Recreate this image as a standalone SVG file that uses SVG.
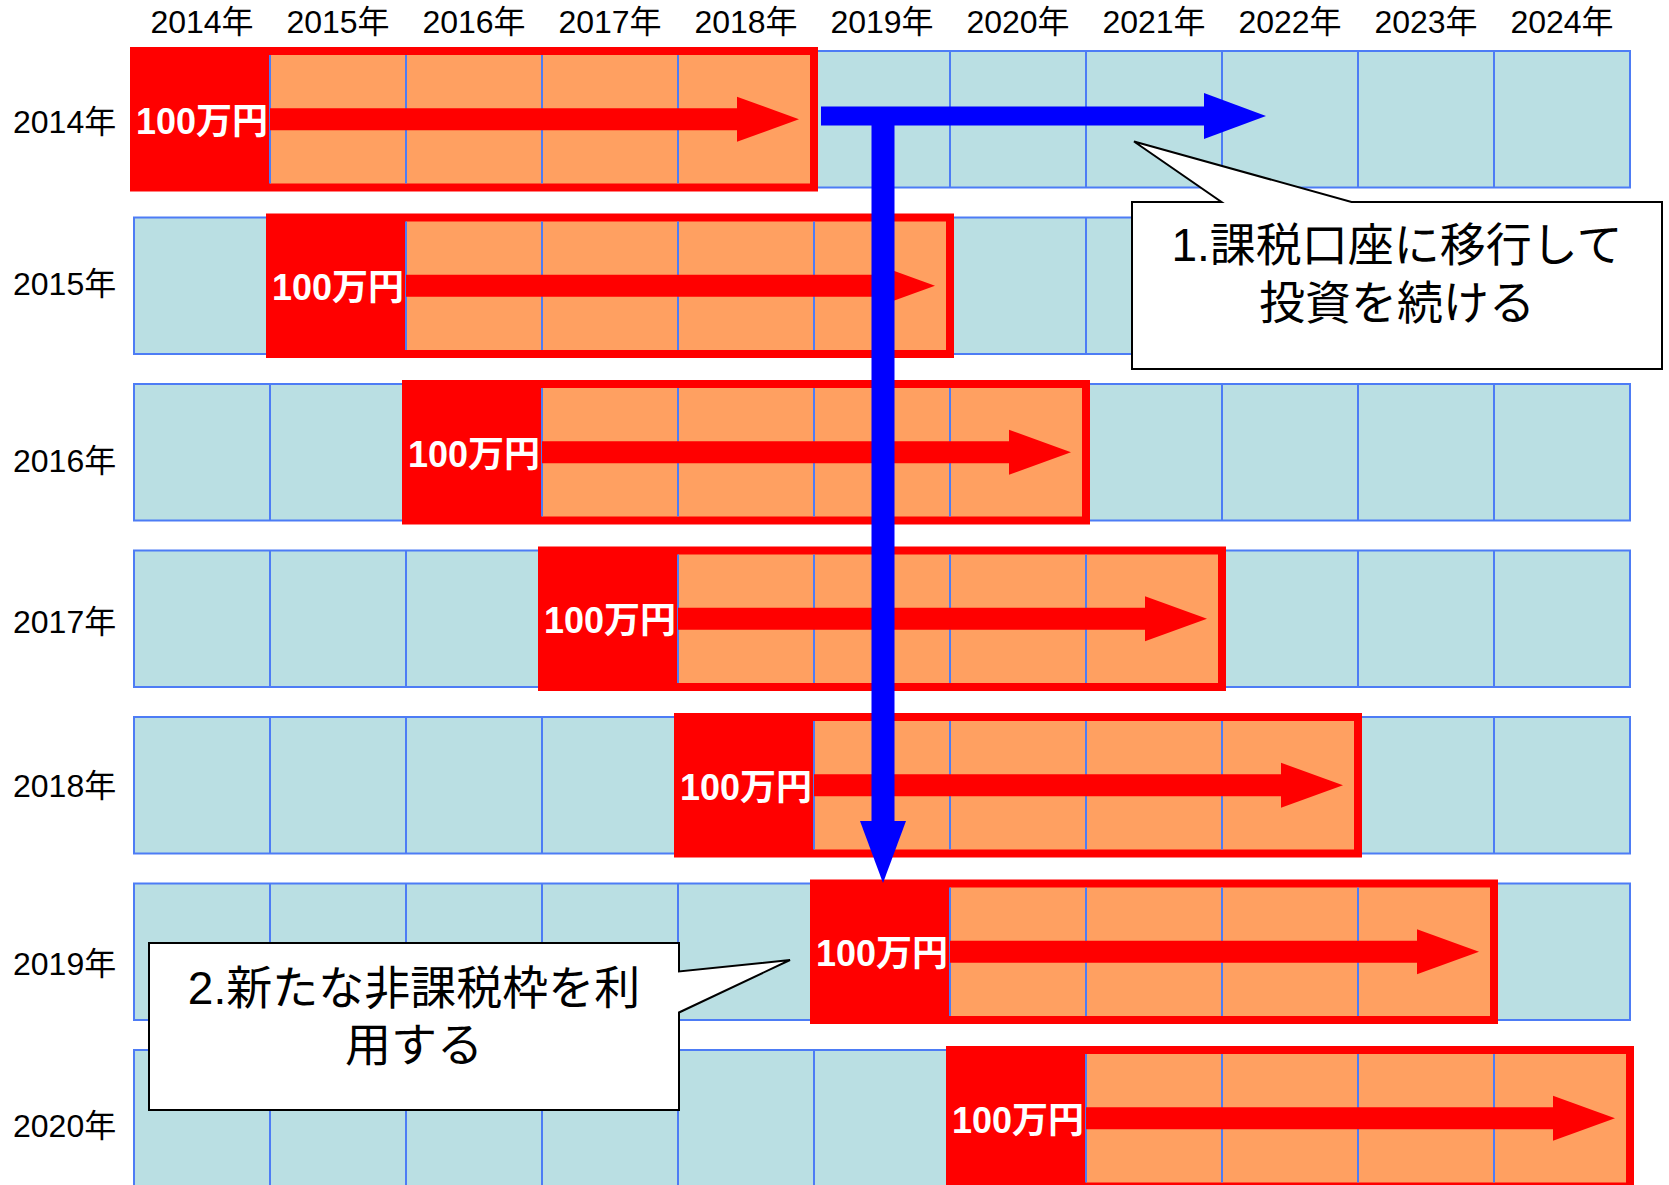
<svg xmlns="http://www.w3.org/2000/svg" width="1669" height="1185" viewBox="0 0 1669 1185">
<defs>
<style>
.t{font-family:"Liberation Sans","Noto Sans CJK JP",sans-serif;fill:#000}
.hd{font-size:32px;text-anchor:middle}
.rl{font-size:32px}
.amt{font-family:"Liberation Sans","Noto Sans CJK JP",sans-serif;font-weight:bold;font-size:36px;fill:#fff;text-anchor:middle}
.cell{fill:#BADFE3;stroke:#4D7CF5;stroke-width:2}
.gl{stroke:#4D7CF5;stroke-width:2}
.blk{fill:#FF0000}
.org{fill:#FFA061}
.rar{stroke:#FF0000;stroke-width:22;fill:none}
.bar{stroke:#0000FF;fill:none}
.co{fill:#fff;stroke:#000;stroke-width:2}
.ct{font-family:"Liberation Sans","Noto Sans CJK JP",sans-serif;font-size:46px;fill:#000;text-anchor:middle}
</style>
<marker id="rh" markerUnits="userSpaceOnUse" markerWidth="62" markerHeight="45" viewBox="0 0 62 45" refX="0" refY="22.5" orient="auto" overflow="visible">
<path d="M0,0 L62,22.5 L0,45 Z" fill="#FF0000"/>
</marker>
<marker id="bh" markerUnits="userSpaceOnUse" markerWidth="62" markerHeight="46" viewBox="0 0 62 46" refX="0" refY="23" orient="auto" overflow="visible">
<path d="M0,0 L62,23 L0,46 Z" fill="#0000FF"/>
</marker>
<g id="gridrow">
<rect class="cell" x="134" y="0" width="1496" height="136.5"/>
<path class="gl" d="M270,0V136.5M406,0V136.5M542,0V136.5M678,0V136.5M814,0V136.5M950,0V136.5M1086,0V136.5M1222,0V136.5M1358,0V136.5M1494,0V136.5"/>
</g>
<g id="block">
<rect class="blk" x="-4" y="-4" width="688" height="144.5"/>
<rect class="org" x="136" y="4" width="540" height="128.5"/>
<path class="gl" d="M136,4V132.5M272,4V132.5M408,4V132.5M544,4V132.5"/>
<path class="rar" d="M136,68.25H603" marker-end="url(#rh)"/>
<text class="amt" x="68" y="82.75">100万円</text>
</g>
</defs>

<g id="header">
<text class="t hd" x="202" y="33">2014年</text>
<text class="t hd" x="338" y="33">2015年</text>
<text class="t hd" x="474" y="33">2016年</text>
<text class="t hd" x="610" y="33">2017年</text>
<text class="t hd" x="746" y="33">2018年</text>
<text class="t hd" x="882" y="33">2019年</text>
<text class="t hd" x="1018" y="33">2020年</text>
<text class="t hd" x="1154" y="33">2021年</text>
<text class="t hd" x="1290" y="33">2022年</text>
<text class="t hd" x="1426" y="33">2023年</text>
<text class="t hd" x="1562" y="33">2024年</text>
</g>

<g id="row-2014">
<text class="t rl" x="13" y="133">2014年</text>
<use href="#gridrow" y="51"/>
<use href="#block" x="134" y="51"/>
</g>
<g id="row-2015">
<text class="t rl" x="13" y="295">2015年</text>
<use href="#gridrow" y="217.5"/>
<use href="#block" x="270" y="217.5"/>
</g>
<g id="row-2016">
<text class="t rl" x="13" y="472">2016年</text>
<use href="#gridrow" y="384"/>
<use href="#block" x="406" y="384"/>
</g>
<g id="row-2017">
<text class="t rl" x="13" y="633">2017年</text>
<use href="#gridrow" y="550.5"/>
<use href="#block" x="542" y="550.5"/>
</g>
<g id="row-2018">
<text class="t rl" x="13" y="797">2018年</text>
<use href="#gridrow" y="717"/>
<use href="#block" x="678" y="717"/>
</g>
<g id="row-2019">
<text class="t rl" x="13" y="975">2019年</text>
<use href="#gridrow" y="883.5"/>
<use href="#block" x="814" y="883.5"/>
</g>
<g id="row-2020">
<text class="t rl" x="13" y="1137">2020年</text>
<use href="#gridrow" y="1050"/>
<use href="#block" x="950" y="1050"/>
</g>

<g id="connectors">
<path class="bar" stroke-width="19" d="M821,116H1204" marker-end="url(#bh)"/>
<path class="bar" stroke-width="23" d="M883,107V821" marker-end="url(#bh)"/>
</g>

<g id="callout-1">
<path class="co" d="M1132,202H1221.5L1134,141.5L1351.5,202H1662V369H1132Z"/>
<text class="ct" x="1397" y="261">1.課税口座に移行して</text>
<text class="ct" x="1397" y="319">投資を続ける</text>
</g>

<g id="callout-2">
<path class="co" d="M149,943H679V971.5L790,960L679,1012.5V1110H149Z"/>
<text class="ct" x="414" y="1004">2.新たな非課税枠を利</text>
<text class="ct" x="414" y="1061">用する</text>
</g>
</svg>
